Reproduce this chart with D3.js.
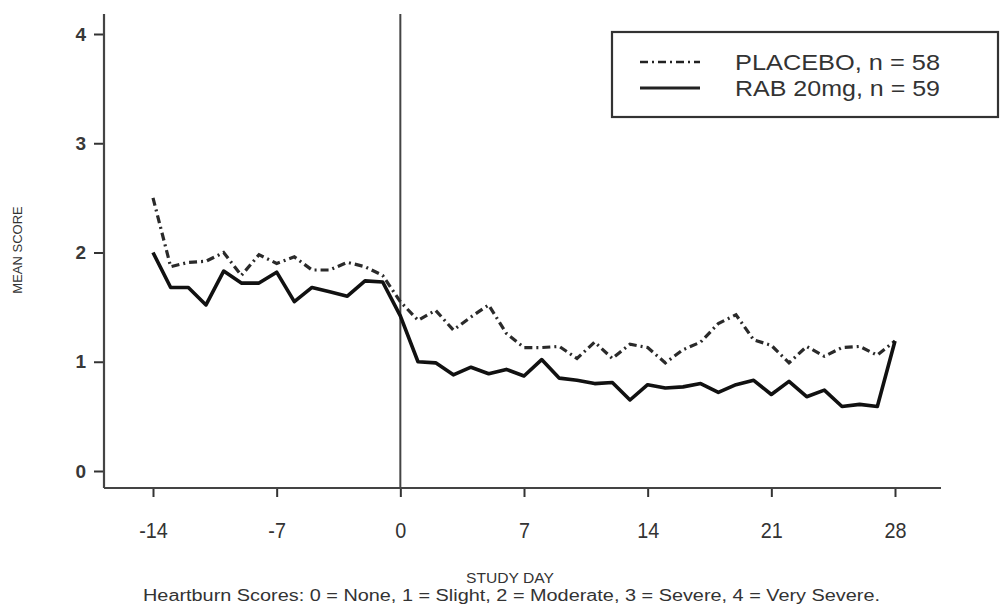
<!DOCTYPE html>
<html>
<head>
<meta charset="utf-8">
<script src="https://cdn.jsdelivr.net/npm/d3@7"></script>
<style>
  body { margin: 0; background: white; }
  svg text { font-family: "Liberation Sans", Arial, sans-serif; fill: #333; }
</style>
</head>
<body>
<div id="divGrafico"></div>
<script>
// Datos (puntuacion media de pirosis por dia)
const dias = [-14,-13,-12,-11,-10,-9,-8,-7,-6,-5,-4,-3,-2,-1,0,1,2,3,4,5,6,7,8,9,10,11,12,13,14,15,16,17,18,19,20,21,22,23,24,25,26,27,28];
const placebo = [2.50,1.87,1.91,1.92,2.00,1.79,1.98,1.90,1.96,1.84,1.84,1.91,1.87,1.79,1.55,1.38,1.47,1.29,1.41,1.52,1.26,1.13,1.13,1.14,1.03,1.18,1.03,1.16,1.13,0.99,1.11,1.18,1.35,1.43,1.20,1.15,0.99,1.14,1.05,1.13,1.14,1.06,1.19];
const rab = [2.00,1.68,1.68,1.52,1.83,1.72,1.72,1.82,1.55,1.68,1.64,1.60,1.74,1.73,1.42,1.00,0.99,0.88,0.95,0.89,0.93,0.87,1.02,0.85,0.83,0.80,0.81,0.65,0.79,0.76,0.77,0.80,0.72,0.79,0.83,0.70,0.82,0.68,0.74,0.59,0.61,0.59,1.19];
const ticksX = [-14,-7,0,7,14,21,28];
const ticksY = [0,1,2,3,4];
const series = ["PLACEBO, n = 58", "RAB 20mg, n = 59"];

const width = 1000, height = 609;
const svg = d3.select("#divGrafico").append("svg")
  .attr("width", width)
  .attr("height", height);

// escalas
const xScale = d3.scaleLinear().domain([-14, 28]).range([153, 895]);
const yScale = d3.scaleLinear().domain([0, 4]).range([471, 34]);
const ejeX = 488, ejeY = 104;

// eje Y
const yAxis = d3.axisLeft(yScale).tickValues(ticksY).tickSize(9).tickPadding(8).tickFormat(d => String(d));
const gy = svg.append("g").attr("transform", `translate(${ejeY - 1}, 0)`).call(yAxis);
gy.select(".domain").remove();
gy.selectAll(".tick line").attr("stroke", "#333").attr("stroke-width", 2);
gy.selectAll(".tick text").attr("font-size", 19).attr("font-weight", "bold").style("fill", "#383838");

// eje X (etiquetas algo estrechas como en el original)
const xAxis = d3.axisBottom(xScale).tickValues(ticksX).tickSize(8).tickPadding(25).tickFormat(d => String(d));
const gx = svg.append("g").attr("transform", `translate(0, ${ejeX + 1})`).call(xAxis);
gx.select(".domain").remove();
gx.selectAll(".tick line").attr("stroke", "#333").attr("stroke-width", 2);
gx.selectAll(".tick text").attr("font-size", 22).style("fill", "#333")
  .attr("transform", "scale(0.9,1)");

// lineas de ejes
svg.append("line").attr("x1", ejeY).attr("x2", ejeY).attr("y1", 14).attr("y2", ejeX)
  .attr("stroke", "#444").attr("stroke-width", 2.2);
svg.append("line").attr("x1", ejeY).attr("x2", 941).attr("y1", ejeX).attr("y2", ejeX)
  .attr("stroke", "#444").attr("stroke-width", 2.2);

// linea vertical en dia 0
svg.append("line").attr("x1", xScale(0)).attr("x2", xScale(0)).attr("y1", 14).attr("y2", ejeX)
  .attr("stroke", "#444").attr("stroke-width", 2);

// series
const linea = d3.line().x((d, i) => xScale(dias[i])).y(d => yScale(d));
svg.append("path").datum(placebo)
  .attr("d", linea)
  .attr("fill", "none")
  .attr("stroke", "#2a2a2a")
  .attr("stroke-width", 3.2)
  .attr("stroke-dasharray", "8,4,2,4");
svg.append("path").datum(rab)
  .attr("d", linea)
  .attr("fill", "none")
  .attr("stroke", "#111")
  .attr("stroke-width", 3.6)
  .attr("stroke-linejoin", "round");

// leyenda
const leyenda = svg.append("g");
leyenda.append("rect").attr("x", 612).attr("y", 32).attr("width", 386).attr("height", 85)
  .attr("fill", "white").attr("stroke", "#333").attr("stroke-width", 2.2);
const estilos = [{dash: "8,4,2,4", w: 2.5}, {dash: null, w: 3}];
series.forEach((s, i) => {
  const y = 62 + i * 26;
  leyenda.append("line").attr("x1", 640).attr("x2", 700).attr("y1", y).attr("y2", y)
    .attr("stroke", "#222").attr("stroke-width", estilos[i].w)
    .attr("stroke-dasharray", estilos[i].dash);
  leyenda.append("text").attr("x", 735).attr("y", y + 8).attr("font-size", 22)
    .attr("textLength", 205).attr("lengthAdjust", "spacingAndGlyphs").text(s);
});

// titulos de ejes
svg.append("text").attr("transform", "translate(22, 250) rotate(-90)")
  .attr("text-anchor", "middle").attr("font-size", 13).text("MEAN SCORE");
svg.append("text").attr("x", 510).attr("y", 583).attr("text-anchor", "middle")
  .attr("font-size", 15).attr("textLength", 88).attr("lengthAdjust", "spacingAndGlyphs").text("STUDY DAY");
svg.append("text").attr("x", 143).attr("y", 601)
  .attr("font-size", 16).attr("textLength", 737).attr("lengthAdjust", "spacingAndGlyphs")
  .text("Heartburn Scores: 0 = None, 1 = Slight, 2 = Moderate, 3 = Severe, 4 = Very Severe.");
</script>
</body>
</html>
